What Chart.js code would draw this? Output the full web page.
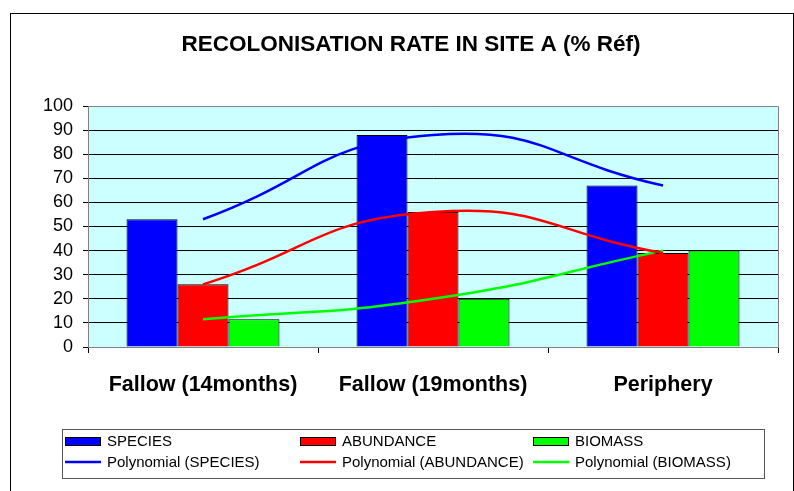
<!DOCTYPE html>
<html>
<head>
<meta charset="utf-8">
<script src="https://cdn.jsdelivr.net/npm/chart.js@4"></script>
<style>
  body { margin: 0; background: #fff; }
</style>
</head>
<body>
<canvas id="chart" width="794" height="491"></canvas>
<script>
// Values (% of reference)
const categories = ['Fallow (14months)', 'Fallow (19months)', 'Periphery'];
const species = [53, 88, 67];
const abundance = [26, 56, 39];
const biomass = [11.5, 20, 40];
const seriesNames = ['SPECIES', 'ABUNDANCE', 'BIOMASS'];
const trendNames = ['Polynomial (SPECIES)', 'Polynomial (ABUNDANCE)', 'Polynomial (BIOMASS)'];
const colors = ['#0000FF', '#FF0000', '#00FF00'];
const chartTitle = 'RECOLONISATION RATE IN SITE A (% Réf)';

const FONT = '"Liberation Sans", Arial, sans-serif';

// Plot background, title, frames and the boxed legend
const decorations = {
    id: 'decorations',
    beforeDraw(chart) {
        const { ctx, chartArea: a } = chart;
        ctx.save();
        ctx.fillStyle = '#CCFFFF';
        ctx.fillRect(a.left, a.top, a.right - a.left, a.bottom - a.top);
        ctx.restore();
    },
    afterDraw(chart) {
        const { ctx, chartArea: a } = chart;
        ctx.save();
        // title (centred over the whole frame, like the original)
        ctx.fillStyle = '#000';
        ctx.font = 'bold 22.5px ' + FONT;
        ctx.textAlign = 'center';
        ctx.textBaseline = 'middle';
        ctx.fillText(chartTitle, 411, 45);
        ctx.textAlign = 'left';

        // outer frame
        ctx.strokeStyle = '#000';
        ctx.lineWidth = 1;
        ctx.strokeRect(10.5, 13.5, 783, 500);
        // plot area border (top / right)
        ctx.strokeStyle = '#808080';
        ctx.beginPath();
        ctx.moveTo(a.left, a.top + 0.5);
        ctx.lineTo(a.right + 0.5, a.top + 0.5);
        ctx.lineTo(a.right + 0.5, a.bottom);
        ctx.stroke();

        // legend box
        ctx.strokeStyle = '#555';
        ctx.strokeRect(62.5, 429.5, 702, 49);
        const colX = [65, 300, 533];
        const rowY = [441, 462];
        ctx.font = '15px ' + FONT;
        chart.data.datasets.forEach((ds, i) => {
            const x = colX[i % 3];
            const y = rowY[Math.floor(i / 3)];
            if (ds.type === 'line') {
                ctx.strokeStyle = ds.borderColor;
                ctx.lineWidth = 2.5;
                ctx.beginPath();
                ctx.moveTo(x, y);
                ctx.lineTo(x + 36, y);
                ctx.stroke();
            } else {
                ctx.fillStyle = ds.backgroundColor;
                ctx.fillRect(x, y - 4, 35, 8);
                ctx.strokeStyle = '#000';
                ctx.lineWidth = 1;
                ctx.strokeRect(x + 0.5, y - 3.5, 35, 8);
            }
            ctx.fillStyle = '#000';
            ctx.fillText(ds.label, x + 42, y + 1);
        });
        ctx.restore();
    }
};

const barData = [species, abundance, biomass];

const datasets = barData.map((values, i) => ({
    type: 'bar',
    label: seriesNames[i],
    data: values,
    backgroundColor: colors[i],
    borderColor: '#000',
    borderWidth: 1,
    categoryPercentage: 0.665,
    barPercentage: 1,
    order: 1
})).concat(barData.map((values, i) => ({
    type: 'line',
    label: trendNames[i],
    data: values,
    borderColor: colors[i],
    borderWidth: 2.5,
    pointRadius: 0,
    tension: 0.5,
    fill: false,
    order: 0
})));

new Chart(document.getElementById('chart'), {
    type: 'bar',
    data: { labels: categories, datasets: datasets },
    options: {
        responsive: false,
        animation: false,
        layout: { padding: { left: 10, right: 16, top: 106, bottom: 0 } },
        plugins: {
            legend: { display: false },
            tooltip: { enabled: false },
            title: { display: false }
        },
        scales: {
            x: {
                offset: true,
                grid: {
                    display: true,
                    offset: true,
                    drawOnChartArea: false,
                    tickLength: 6,
                    color: '#000'
                },
                border: { color: '#808080', width: 1 },
                ticks: {
                    color: '#000',
                    padding: 19,
                    maxRotation: 0,
                    font: { family: FONT, size: 21.5, weight: 'bold' }
                },
                afterFit(scale) { scale.height = 144; }
            },
            y: {
                min: 0,
                max: 100,
                ticks: {
                    stepSize: 10,
                    autoSkip: false,
                    color: '#000',
                    padding: 10,
                    font: { family: FONT, size: 18 }
                },
                grid: {
                    color: '#000',
                    lineWidth: 1,
                    tickLength: 5
                },
                border: { color: '#808080', width: 1 },
                afterFit(scale) { scale.width = 78; }
            }
        }
    },
    plugins: [decorations]
});
</script>
</body>
</html>
